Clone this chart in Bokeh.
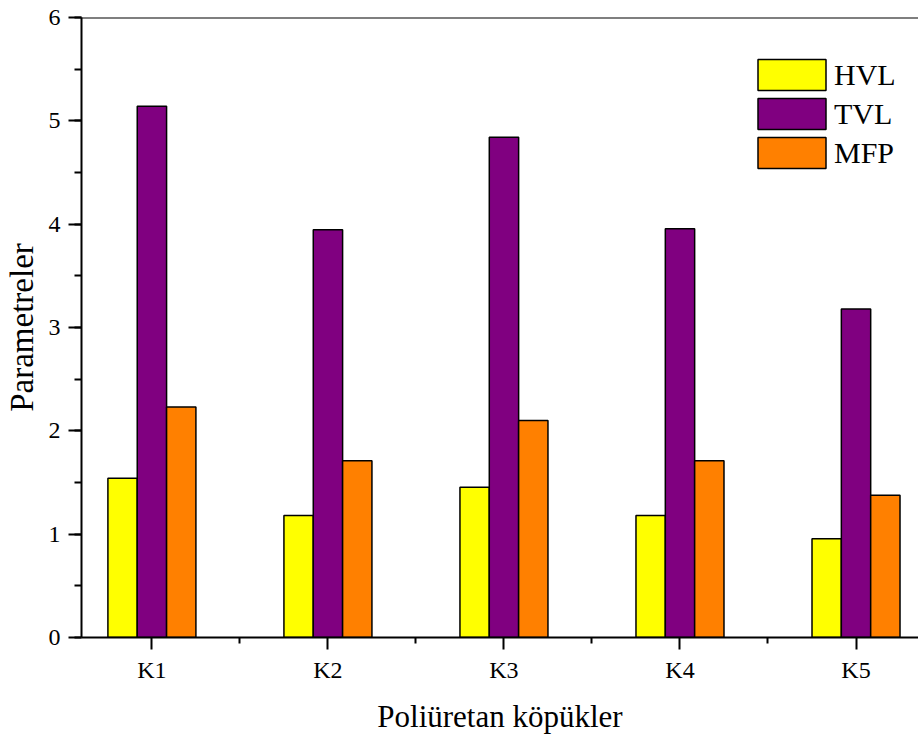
from bokeh.plotting import figure
from bokeh.models import (FixedTicker, SingleIntervalTicker, Legend, LegendItem,
                          Span, ColumnDataSource)
from bokeh.transform import dodge
from bokeh.embed import file_html
from bokeh.resources import INLINE

categories = ["K1", "K2", "K3", "K4", "K5"]
hvl = [1.54, 1.18, 1.455, 1.18, 0.955]
tvl = [5.14, 3.945, 4.84, 3.955, 3.18]
mfp = [2.23, 1.71, 2.10, 1.71, 1.377]
series_names = ["HVL", "TVL", "MFP"]
colors = ["#FFFF00", "#800080", "#FF8000"]

positions = list(range(1, len(categories) + 1))
src = ColumnDataSource(dict(x=positions, HVL=hvl, TVL=tvl, MFP=mfp))

FONT = "Liberation Serif"

p = figure(width=918, height=740, x_range=(0.6, 5.355), y_range=(0, 6),
           output_backend="svg", toolbar_location=None,
           min_border_left=80, min_border_right=0, min_border_top=17,
           min_border_bottom=103)

bw = 1.0 / 6.0
offsets = [-bw, 0.0, bw]
renderers = []
for name, col, off in zip(series_names, colors, offsets):
    r = p.vbar(x=dodge("x", off), top=name, width=bw, source=src,
               fill_color=col, line_color="black", line_width=1.5)
    renderers.append(r)

p.xgrid.visible = False
p.ygrid.visible = False
p.outline_line_color = None
p.add_layout(Span(location=6, dimension="width", line_color="black", line_width=2))

# x axis
p.xaxis.ticker = FixedTicker(ticks=positions, minor_ticks=[x + 0.5 for x in positions[:-1]])
p.xaxis.major_label_overrides = {x: c for x, c in zip(positions, categories)}
p.xaxis.axis_label = "Poliüretan köpükler"

# y axis
p.yaxis.ticker = SingleIntervalTicker(interval=1, num_minor_ticks=2)
p.yaxis.axis_label = "Parametreler"

for ax in (p.xaxis[0], p.yaxis[0]):
    ax.axis_line_width = 2
    ax.axis_line_color = "black"
    ax.major_tick_line_width = 2
    ax.minor_tick_line_width = 2
    ax.major_tick_line_color = "black"
    ax.minor_tick_line_color = "black"
    ax.major_tick_in = 0
    ax.minor_tick_in = 0
    ax.major_label_text_font = FONT
    ax.major_label_text_color = "black"
    ax.axis_label_text_font = FONT
    ax.axis_label_text_font_style = "normal"
    ax.axis_label_text_color = "black"

p.xaxis.major_tick_out = 12
p.xaxis.minor_tick_out = 6
p.xaxis.major_label_text_font_size = "24px"
p.xaxis.major_label_standoff = 7
p.xaxis.axis_label_text_font_size = "31px"
p.xaxis.axis_label_standoff = 13

p.yaxis.major_tick_out = 13
p.yaxis.minor_tick_out = 7
p.yaxis.major_label_text_font_size = "24px"
p.yaxis.major_label_standoff = 8
p.yaxis.axis_label_text_font_size = "33px"
p.yaxis.axis_label_standoff = 6

legend = Legend(items=[LegendItem(label=n, renderers=[r]) for n, r in zip(series_names, renderers)],
                location=(668, 465), glyph_width=85, glyph_height=39, spacing=0,
                padding=0, margin=0, border_line_color=None, background_fill_alpha=0,
                label_text_font=FONT, label_text_font_size="30px", label_standoff=0,
                label_text_color="black")
p.add_layout(legend, "center")

open("out.html", "w").write(file_html(p, INLINE))
